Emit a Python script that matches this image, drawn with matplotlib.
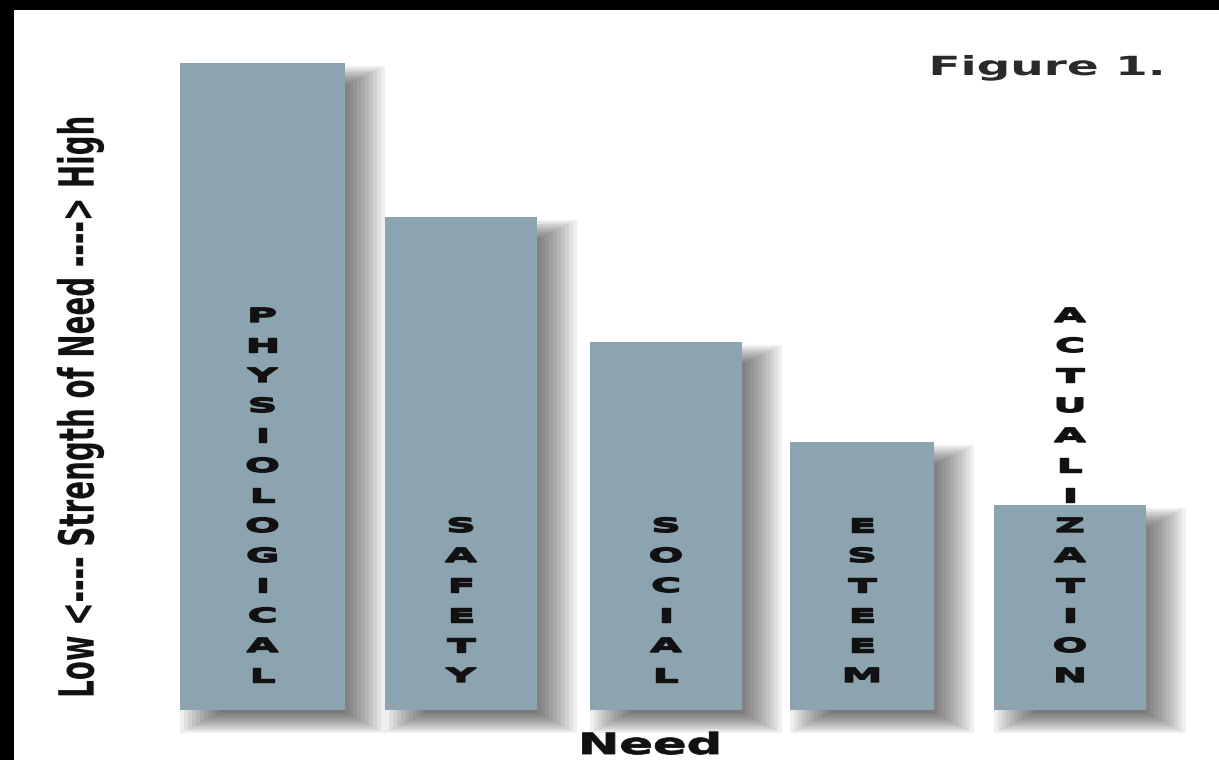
import matplotlib
matplotlib.use("Agg")
import matplotlib.pyplot as plt
from matplotlib.patches import Rectangle
from matplotlib.patheffects import AbstractPathEffect
from matplotlib.transforms import Affine2D

# ---- data ----
needs = ["PHYSIOLOGICAL", "SAFETY", "SOCIAL", "ESTEEM", "ACTUALIZATION"]
strength = [647, 493, 368, 268, 205]
title_text = "Figure 1."
xlabel_text = "Need"
ylabel_text = "Low <---- Strength of Need ----> High"

# ---- layout (pixel-like units) ----
centers = [262.5, 461, 666, 862, 1070]
widths = [165, 152, 152, 144, 152]
BAR_COLOR = "#8CA3B0"


class Stretch(AbstractPathEffect):
    """Draw text glyphs stretched about their centre (text stays real text)."""
    def __init__(self, sx=1.0, sy=1.0, stroke=0.0):
        super().__init__()
        self.sx, self.sy, self.stroke = sx, sy, stroke

    def draw_path(self, renderer, gc, tpath, affine, rgbFace=None):
        ext = tpath.get_extents()
        cx = (ext.x0 + ext.x1) / 2
        cy = (ext.y0 + ext.y1) / 2
        t = (Affine2D().translate(-cx, -cy).scale(self.sx, self.sy)
             .translate(cx, cy))
        gc0 = renderer.new_gc()
        gc0.copy_properties(gc)
        if self.stroke > 0:
            gc0.set_linewidth(self.stroke)
            gc0.set_foreground(rgbFace)
        renderer.draw_path(gc0, tpath, t + affine, rgbFace)
        gc0.restore()


fig = plt.figure(figsize=(12.19, 7.6), dpi=100)
fig.patch.set_facecolor("white")
ax = fig.add_axes([0, 0, 1, 1])
ax.set_xlim(0, 1219)
ax.set_ylim(-50, 710)
ax.axis("off")

bars = ax.bar(centers, strength, width=widths, bottom=0, color=BAR_COLOR,
              zorder=3, linewidth=0)

# soft drop shadows (offset right/down, blurred more horizontally)
nlay = 11
for b in bars:
    x0, y0 = b.get_x(), b.get_y()
    w, h = b.get_width(), b.get_height()
    ox, oy, rx, ry = 20, -13, 20, 10
    for k in range(nlay):
        t = -1 + 2 * k / (nlay - 1)
        ex, ey = t * rx, t * ry
        ax.add_patch(Rectangle((x0 + ox - ex, y0 + oy - ey), w + 2 * ex, h + 2 * ey,
                               facecolor="black", edgecolor="none",
                               alpha=0.062, zorder=2))

# stacked vertical letters in each bar
spacing = 30
base = 28
for name, cx in zip(needs, centers):
    n = len(name)
    for i, ch in enumerate(name):
        ax.text(cx, base + spacing * (n - 1 - i), ch, ha="center", va="baseline",
                fontsize=14, fontweight="bold", color="#111111", zorder=5,
                path_effects=[Stretch(sx=2.1, stroke=1.0)])

# title, x label, y label
fig.text(1047 / 1219, 1 - 75 / 760, title_text, ha="center", va="baseline",
         fontsize=19, fontweight="bold", color="#2a2a2a",
         path_effects=[Stretch(sx=1.78)])
fig.text(650 / 1219, 1 - 754 / 760, xlabel_text, ha="center", va="baseline",
         fontsize=21, fontweight="bold", color="#111111",
         path_effects=[Stretch(sx=1.7, stroke=0.6)])

fig.text(80 / 1219, 1 - 407 / 760, ylabel_text, rotation=90, ha="center",
         va="center", fontsize=20, fontweight="bold", color="#111111",
         path_effects=[Stretch(sy=1.75)])

# black frame bands
fig.add_artist(Rectangle((0, 1 - 10 / 760), 1, 10 / 760, transform=fig.transFigure,
                         facecolor="black", edgecolor="none", zorder=10))
fig.add_artist(Rectangle((0, 0), 14 / 1219, 1, transform=fig.transFigure,
                         facecolor="black", edgecolor="none", zorder=10))

fig.savefig("out.png", dpi=100, facecolor="white")
